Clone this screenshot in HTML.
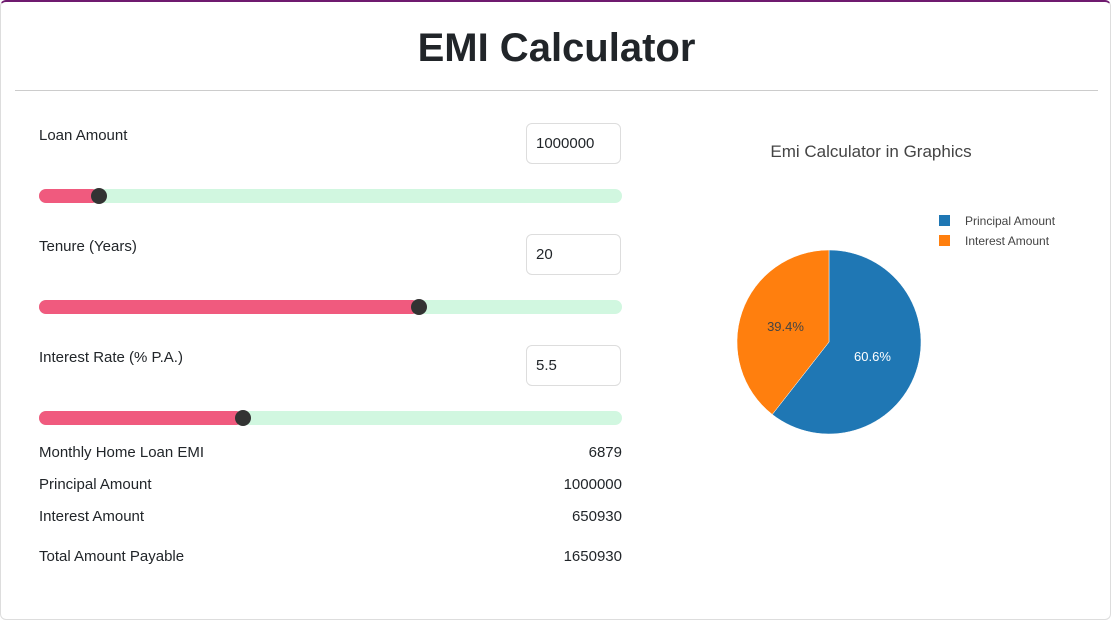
<!DOCTYPE html>
<html><head><meta charset="utf-8"><style>
body{margin:0;width:1113px;height:598px;overflow:hidden;background:#fff;font-family:"Liberation Sans",sans-serif;color:#212529;position:relative}
.card{position:absolute;left:0;top:0;width:1111px;height:620px;border:1px solid #ddd;border-top:2px solid #6f1a6f;border-radius:6px;box-sizing:border-box}
h1{position:absolute;left:0;width:1113px;top:26px;margin:0;text-align:center;font-size:40px;font-weight:bold}
.hr{position:absolute;left:15px;width:1083px;top:90px;height:1px;background:#ccc}
.lbl{position:absolute;left:39px;font-size:15px}
.val{position:absolute;right:491px;font-size:15px;text-align:right}
.inp{position:absolute;left:526px;width:95px;height:41px;border:1px solid #ddd;border-radius:6px;box-sizing:border-box;font-size:15px;padding:11px 0 0 9px}
.track{position:absolute;left:39px;width:583px;height:14px;border-radius:7px;background:#d1f7e0;overflow:visible}
.fill{position:absolute;left:0;top:0;height:14px;border-radius:7px;background:#f05a7e}
.thumb{position:absolute;top:-1px;width:16px;height:16px;border-radius:8px;background:#333;margin-left:-8px}
</style></head><body>
<div class="card"></div>
<h1>EMI Calculator</h1>
<div class="hr"></div>

<div class="lbl" style="top:127px">Loan Amount</div>
<div class="inp" style="top:123px">1000000</div>
<div class="track" style="top:189px"><div class="fill" style="width:60px"></div><div class="thumb" style="left:60px"></div></div>

<div class="lbl" style="top:238px">Tenure (Years)</div>
<div class="inp" style="top:234px">20</div>
<div class="track" style="top:300px"><div class="fill" style="width:380px"></div><div class="thumb" style="left:380px"></div></div>

<div class="lbl" style="top:349px">Interest Rate (% P.A.)</div>
<div class="inp" style="top:345px">5.5</div>
<div class="track" style="top:411px"><div class="fill" style="width:204px"></div><div class="thumb" style="left:204px"></div></div>

<div class="lbl" style="top:444px">Monthly Home Loan EMI</div><div class="val" style="top:444px">6879</div>
<div class="lbl" style="top:476px">Principal Amount</div><div class="val" style="top:476px">1000000</div>
<div class="lbl" style="top:508px">Interest Amount</div><div class="val" style="top:508px">650930</div>
<div class="lbl" style="top:548px">Total Amount Payable</div><div class="val" style="top:548px">1650930</div>

<svg id="chart" style="position:absolute;left:0;top:0" width="1113" height="598">
<text x="871" y="157" text-anchor="middle" font-size="17" fill="#444" font-family="Liberation Sans,sans-serif">Emi Calculator in Graphics</text>
</svg>
<script>
const categories=["Principal Amount","Interest Amount"];
const values=[1000000,650930];
const colors=["#1f77b4","#ff7f0e"];
const svg=document.getElementById('chart');
const NS="http://www.w3.org/2000/svg";
const cx=829,cy=342,R=92;
const total=values.reduce((a,b)=>a+b,0);
function pt(f,r){const a=f*2*Math.PI;return [cx+r*Math.sin(a),cy-r*Math.cos(a)];}
let acc=0;
values.forEach((v,i)=>{
  const f0=acc/total,f1=(acc+v)/total;acc+=v;
  const p0=pt(f0,R),p1=pt(f1,R);
  const large=(f1-f0)>0.5?1:0;
  const p=document.createElementNS(NS,'path');
  p.setAttribute('d',`M${cx},${cy}L${p0[0]},${p0[1]}A${R},${R} 0 ${large} 1 ${p1[0]},${p1[1]}Z`);
  p.setAttribute('fill',colors[i]);p.setAttribute('stroke','#fff');p.setAttribute('stroke-width','0.5');
  
  
  svg.appendChild(p);
  const m=pt((f0+f1)/2,R*0.5);
  const t=document.createElementNS(NS,'text');
  t.setAttribute('x',m[0]);t.setAttribute('y',m[1]+4);t.setAttribute('text-anchor','middle');
  t.setAttribute('font-size','13');t.setAttribute('font-family','Liberation Sans,sans-serif');
  t.setAttribute('fill',i===0?'#fff':'#444');
  t.textContent=(v/total*100).toFixed(1)+'%';
  
  
  svg.appendChild(t);
  const r=document.createElementNS(NS,'rect');
  r.setAttribute('x',939);r.setAttribute('y',215+i*20);r.setAttribute('width',11);r.setAttribute('height',11);r.setAttribute('fill',colors[i]);
  
  
  svg.appendChild(r);
  const lt=document.createElementNS(NS,'text');
  lt.setAttribute('x',965);lt.setAttribute('y',225+i*20);lt.setAttribute('font-size','12');lt.setAttribute('fill','#444');
  lt.setAttribute('font-family','Liberation Sans,sans-serif');
  lt.textContent=categories[i];
  
  
  svg.appendChild(lt);
});
</script>
</body></html>
